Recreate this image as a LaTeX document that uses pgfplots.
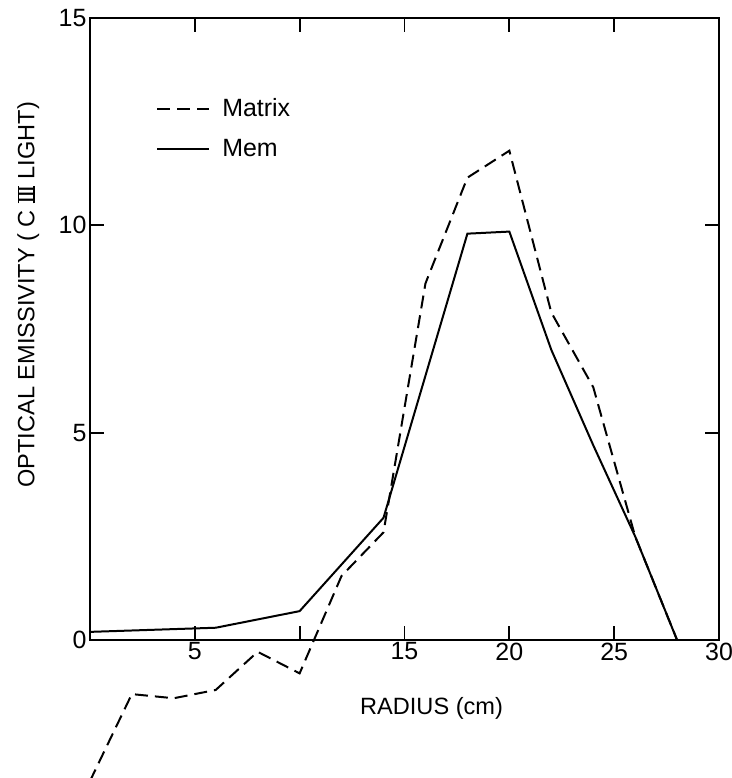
\documentclass[border=0pt]{standalone}
\usepackage{pgfplots}
\pgfplotsset{compat=1.18}
\usetikzlibrary{calc}
\usepackage{fontspec}
\setmainfont{Liberation Sans}
\newcommand\romIII{\setbox0\hbox{I\kern-0.5pt I\kern-0.5pt I}\leavevmode\rlap{\rule[-0.1pt]{\wd0}{0.8pt}}\rlap{\rule[\dimexpr\ht0-0.7pt\relax]{\wd0}{0.8pt}}\box0}
\begin{document}
\begin{tikzpicture}
\begin{axis}[
  scale only axis,
  width=315pt, height=311.5pt,
  xmin=0, xmax=30, ymin=0, ymax=15,
  xtick={5,10,15,20,25,30},
  xticklabels={5,{},15,20,25,30},
  ytick={0,5,10,15},
  yticklabels={0,5,10,15},
  tick align=inside,
  major tick length=7pt,
  axis line style={line width=1pt},
  every tick/.style={black, line width=0.9pt},
  tick label style={font=\fontsize{12.5}{14}\selectfont},
  /pgf/number format/assume math mode=true,
  xticklabel style={inner sep=1pt},
  yticklabel style={inner sep=1.5pt},
  xlabel={RADIUS (cm)},
  xlabel style={at={(axis description cs:0.543,-0.109)}, anchor=center, font=\fontsize{11.8}{13}\selectfont},
  ylabel={OPTICAL EMISSIVITY ( C \romIII\ LIGHT)},
  ylabel style={at={(axis description cs:-0.098,0.555)}, anchor=center, font=\fontsize{11.8}{13}\selectfont},
  legend style={draw=none, fill=none, at={(axis description cs:0.105,0.822)}, anchor=west,
    inner sep=0pt, row sep=8pt, font=\fontsize{12.5}{14}\selectfont,
    nodes={inner sep=1pt},
    /tikz/every odd column/.append style={column sep=5pt}},
  legend cell align=left,
  legend image code/.code={\draw[#1] (0pt,0pt) -- (26pt,0pt);},
  clip=false,
]
\addplot[black, line width=1pt, dash pattern=on 6.5pt off 3.5pt] coordinates {
  (0,-3.4) (2,-1.3) (4,-1.4) (6,-1.2) (8,-0.28) (10,-0.8) (12,1.55) (14,2.6)
  (16,8.6) (18,11.15) (20,11.8) (22,7.9) (24,6.1) (26,2.5) (28,0)
};
\addlegendentry{Matrix}
\addplot[black, line width=1pt] coordinates {
  (0,0.2) (6,0.3) (10,0.7) (14,2.95) (18,9.8) (20,9.85) (22,7.0) (24,4.7) (26,2.5) (28,0)
};
\addlegendentry{Mem}
\coordinate (bl) at (axis description cs:0,0);
\coordinate (tr) at (axis description cs:1,1);
\end{axis}
\pgfresetboundingbox
\path ($(bl)+(-45pt,-69pt)$) rectangle ($(tr)+(6pt,9pt)$);
\end{tikzpicture}
\end{document}
